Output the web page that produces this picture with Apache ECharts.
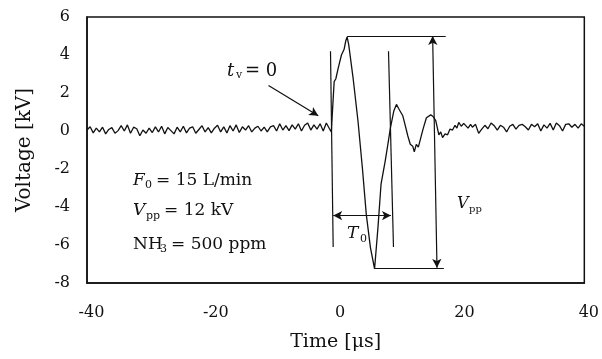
<!DOCTYPE html>
<html>
<head>
<meta charset="utf-8">
<script src="https://cdn.jsdelivr.net/npm/echarts@6/dist/echarts.min.js"></script>
<style>
  html, body { margin: 0; padding: 0; background: #fff; }
  #chart { width: 602px; height: 359px; }
</style>
</head>
<body>
<div id="chart"></div>
<script>
// baseline before the pulse, sampled every 0.5 us from -40
const preStart = -40;
const postStart = 22;
const step = 0.5;
const preVolts = [
  0.05, 0.22, -0.1, 0.15, -0.05, 0.2, -0.15, 0.08, 0.18, -0.12,
  0.02, 0.28, 0.0, 0.32, -0.12, 0.2, 0.12, -0.25, 0.05, -0.12,
  0.15, -0.08, 0.22, -0.05, 0.25, -0.15, 0.18, 0.02, -0.15, 0.2,
  -0.05, 0.25, -0.1, 0.15, 0.22, -0.12, 0.08, 0.28, -0.05, 0.18,
  -0.1, 0.15, 0.3, -0.05, 0.22, -0.1, 0.28, 0.0, 0.32, -0.08,
  0.22, 0.05, 0.28, -0.05, 0.15, 0.25, 0.0, 0.2, -0.05, 0.22,
  0.28, 0.0, 0.38, 0.05, 0.28, 0.02, 0.32, 0.1, 0.38, 0.0,
  0.3, 0.42, 0.05, 0.32, 0.1, 0.38, 0.0, 0.42, 0.12
];
// the pulse itself
const pulseTimes = [
  -0.7, -0.45, -0.24, 0.03, 0.4, 0.93, 1.36, 1.63, 1.84, 2.1,
  2.8, 3.6, 4.3, 4.93, 5.6, 6.26, 6.8, 7.3, 7.96, 8.4,
  8.8, 9.35, 9.78, 10.1, 10.4, 10.8, 11.15, 11.6, 12.0, 12.4,
  12.65, 12.97, 13.3, 13.7, 14.1, 14.6, 14.9, 15.3, 15.7, 16.1,
  16.4, 16.6, 16.9, 17.2, 17.6, 18.0, 18.4, 18.8, 19.2, 19.5,
  19.8, 20.2, 20.6, 20.9, 21.3, 21.7
];
const pulseVolts = [
  -0.05, 1.4, 2.6, 2.75, 3.3, 4.0, 4.3, 4.75, 4.95, 4.55,
  2.8, 0.5, -1.95, -4.4, -6.15, -7.25, -5.1, -2.8, -1.6, -0.7,
  0.15, 1.05, 1.4, 1.2, 1.28, 0.8, 0.35, -0.25, -0.7, -0.8,
  -1.1, -0.7, -0.85, -0.35, 0.15, 0.7, 0.8, 0.85, 0.75, 0.55,
  0.58, -0.2, -0.05, -0.35, -0.15, -0.2, 0.1, 0.05, 0.3, 0.15,
  0.45, 0.25, 0.4, 0.3, 0.15, 0.35
];
// baseline after the pulse, every 0.5 us from 22
const postVolts = [
  0.2, 0.35, -0.12, 0.1, 0.3, 0.12, 0.42, 0.28, 0.05, 0.3,
  0.2, -0.05, 0.25, 0.35, 0.1, 0.3, 0.35, 0.22, 0.05, 0.35,
  0.22, 0.38, 0.0, 0.32, 0.15, 0.4, 0.05, 0.42, 0.28, 0.0,
  0.35, 0.38, 0.2, 0.35, 0.15, 0.38, 0.25
];

const xTicks = [-40, -20, 0, 20, 40];
const yTicks = [-8, -6, -4, -2, 0, 2, 4, 6];

// annotation lines: [start, end, startSymbol, endSymbol]
const guides = [
  [[-0.83, 4.2], [-0.4, -6.1], 'none', 'none'],
  [[8.5, 4.2], [9.3, -6.1], 'none', 'none'],
  [[1.84, 5.0], [17.7, 5.0], 'none', 'none'],
  [[6.26, -7.2], [17.4, -7.2], 'none', 'none'],
  [[15.6, 5.0], [16.3, -7.2], 'arrow', 'arrow'],
  [[-0.4, -4.45], [8.9, -4.45], 'arrow', 'arrow'],
  [[-10.8, 2.4], [-2.8, 0.8], 'none', 'arrow']
];

const trace = [];
preVolts.forEach((v, i) => trace.push([preStart + i * step, v]));
pulseTimes.forEach((t, i) => trace.push([t, pulseVolts[i]]));
postVolts.forEach((v, i) => trace.push([postStart + i * step, v]));

const serif = 'DejaVu Serif';
const txt = (x, y, text, size, italic) => ({
  type: 'text',
  left: x,
  top: y,
  style: {
    text: text,
    font: (italic ? 'italic ' : '') + size + 'px "' + serif + '"',
    fill: '#111'
  }
});

const chart = echarts.init(document.getElementById('chart'));
chart.setOption({
  animation: false,
  backgroundColor: '#fff',
  grid: { left: 87, right: 14, top: 17, bottom: 76, show: true, borderColor: '#111', borderWidth: 1.5 },
  xAxis: {
    type: 'value',
    min: xTicks[0],
    max: xTicks[xTicks.length - 1],
    interval: 20,
    name: 'Time [\u03bcs]',
    nameLocation: 'middle',
    nameGap: 50,
    nameTextStyle: { fontFamily: serif, fontSize: 19, color: '#111' },
    axisLine: { onZero: false, lineStyle: { color: '#111', width: 1.5 } },
    axisTick: { show: false },
    splitLine: { show: false },
    axisLabel: { fontFamily: serif, fontSize: 16, color: '#111', margin: 22, padding: [0, 0, 0, 9] }
  },
  yAxis: {
    type: 'value',
    min: yTicks[0],
    max: yTicks[yTicks.length - 1],
    interval: 2,
    name: 'Voltage [kV]',
    nameLocation: 'middle',
    nameRotate: 90,
    nameGap: 52,
    nameTextStyle: { fontFamily: serif, fontSize: 20, color: '#111' },
    axisLine: { onZero: false, lineStyle: { color: '#111', width: 1.5 } },
    axisTick: { show: false },
    splitLine: { show: false },
    axisLabel: { fontFamily: serif, fontSize: 16, color: '#111', margin: 17, padding: [6, 0, 0, 0] }
  },
  series: [{
    type: 'line',
    data: trace,
    showSymbol: false,
    lineStyle: { color: '#111', width: 1.3 },
    markLine: {
      silent: true,
      animation: false,
      symbolSize: [7, 9],
      label: { show: false },
      lineStyle: { color: '#111', width: 1.2, type: 'solid' },
      data: guides.map(g => [
        { coord: g[0], symbol: g[2] },
        { coord: g[1], symbol: g[3] }
      ])
    }
  }],
  graphic: [
    txt(227, 62, 't', 18, true),
    txt(236, 70, 'v', 11, false),
    txt(245, 62, '= 0', 18, false),

    txt(133, 172, 'F', 17, true),
    txt(145, 180, '0', 11, false),
    txt(156, 172, '= 15 L/min', 17, false),
    txt(133, 202, 'V', 17, true),
    txt(146, 211, 'pp', 11, false),
    txt(164, 202, '= 12 kV', 17, false),
    txt(133, 236, 'NH', 17, false),
    txt(160, 244, '3', 11, false),
    txt(171, 236, '= 500 ppm', 17, false),

    txt(347, 225, 'T', 17, true),
    txt(360, 234, '0', 11, false),
    txt(457, 196, 'V', 16, true),
    txt(469, 204, 'pp', 10, false)
  ]
});
</script>
</body>
</html>
